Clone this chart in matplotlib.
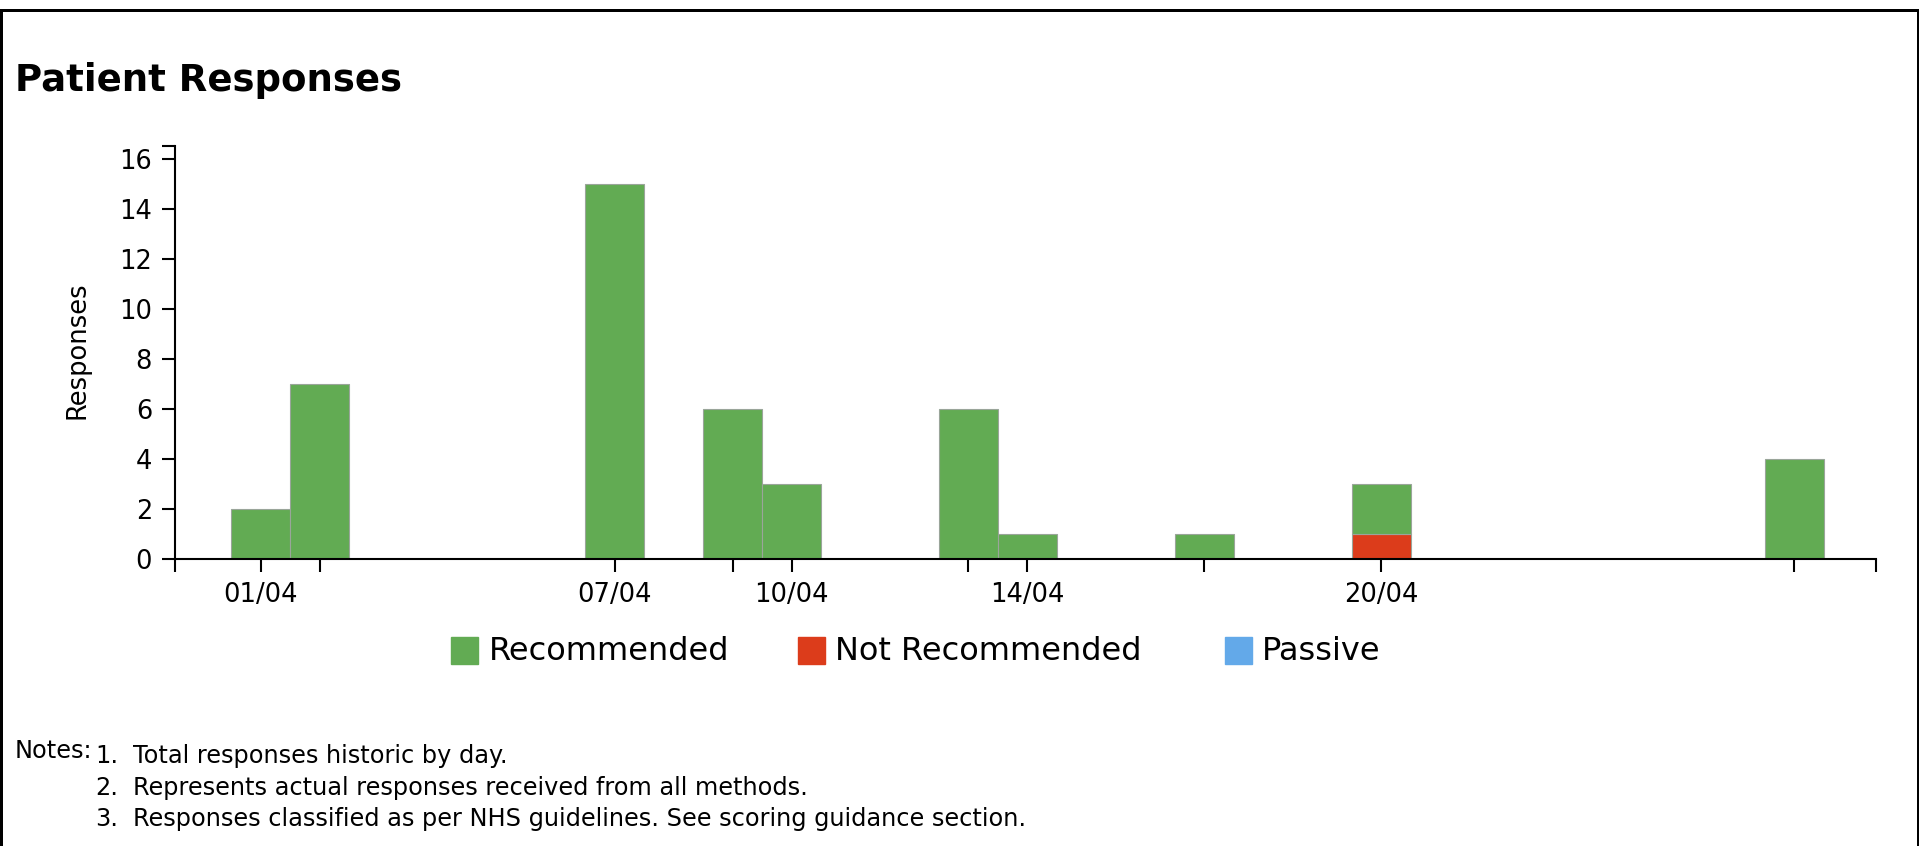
import matplotlib
matplotlib.use("Agg")
import matplotlib.pyplot as plt
from matplotlib.patches import Rectangle
from matplotlib.lines import Line2D
import numpy as np

# ---- data ----
dates = ["01/04", "02/04", "07/04", "09/04", "10/04", "13/04", "14/04", "17/04", "20/04", "27/04"]
recommended = [2, 7, 15, 6, 3, 6, 1, 1, 2, 4]
not_recommended = [0, 0, 0, 0, 0, 0, 0, 0, 1, 0]
passive = [0, 0, 0, 0, 0, 0, 0, 0, 0, 0]
labelled_dates = ["01/04", "07/04", "10/04", "14/04", "20/04"]
series_names = ["Recommended", "Not Recommended", "Passive"]
series_colors = ["#62AB53", "#DC3C1B", "#63A9E9"]
y_ticks = [0, 2, 4, 6, 8, 10, 12, 14, 16]
title = "Patient Responses"
y_label = "Responses"
notes = ["Total responses historic by day.",
         "Represents actual responses received from all methods.",
         "Responses classified as per NHS guidelines. See scoring guidance section."]

W, H = 1919, 846
fig = plt.figure(figsize=(W / 100, H / 100), dpi=100)
fig.patch.set_facecolor("white")

def fx(px):
    return px / W

def fy(py):
    return 1 - py / H

AX_L, AX_R, AX_T, AX_B = 175, 1876, 146, 559
ax = fig.add_axes([fx(AX_L), fy(AX_B), fx(AX_R) - fx(AX_L), fy(AX_T) - fy(AX_B)])

x = np.array([int(d[:2]) - 1 for d in dates], dtype=float)
rec = np.array(recommended)
nrec = np.array(not_recommended)
pas = np.array(passive)

edge = "#9aa59a"
ax.bar(x, nrec, width=1.0, color=series_colors[1], edgecolor=edge, linewidth=0.8, zorder=2)
ax.bar(x, rec, bottom=nrec, width=1.0, color=series_colors[0], edgecolor=edge, linewidth=0.8, zorder=2)
ax.bar(x, pas, bottom=nrec + rec, width=1.0, color=series_colors[2], edgecolor=edge, linewidth=0.0, zorder=2)

xmin, xmax = -1.453, 27.387
ymax = 16.5
ax.set_xlim(xmin, xmax)
ax.set_ylim(0, ymax)

xt = [xmin] + list(x) + [xmax]
xl = [""] + [d if d in labelled_dates else "" for d in dates] + [""]
ax.set_xticks(xt)
ax.set_xticklabels(xl)
ax.set_yticks(y_ticks + [ymax])
ax.set_yticklabels([str(v) for v in y_ticks] + [""])

for s in ["top", "right"]:
    ax.spines[s].set_visible(False)
for s in ["left", "bottom"]:
    ax.spines[s].set_linewidth(1.5)
    ax.spines[s].set_color("black")
    ax.spines[s].set_zorder(3)

ax.tick_params(axis="both", direction="out", length=9.5, width=1.5, colors="black",
               labelsize=18.5, pad=7)
ax.set_ylabel(y_label, fontsize=18.5)
ax.yaxis.set_label_coords((fx(90) - fx(AX_L)) / (fx(AX_R) - fx(AX_L)),
                          (fy(350) - fy(AX_B)) / (fy(AX_T) - fy(AX_B)))

# title
fig.text(fx(15), fy(80.5), title, fontsize=26.75, fontweight="bold", ha="left", va="center")

# legend (manual)
sq_x = [451, 798, 1225]
tx_x = [489, 835, 1262]
for name, col, sx, tx in zip(series_names, series_colors, sq_x, tx_x):
    fig.patches.append(Rectangle((fx(sx), fy(664)), fx(27), fy(637) - fy(664),
                                 transform=fig.transFigure, color=col, figure=fig))
    fig.text(fx(tx), fy(651), name, fontsize=23, ha="left", va="center")

# notes
fig.text(fx(15), fy(751), "Notes:", fontsize=17.25, ha="left", va="center")
for i, n in enumerate(notes):
    yy = fy(756 + i * 31.5)
    fig.text(fx(118), yy, f"{i + 1}.", fontsize=17.25, ha="right", va="center")
    fig.text(fx(133), yy, n, fontsize=17.25, ha="left", va="center")

# border
lw = 3 * 0.72
fig.add_artist(Line2D([fx(1), fx(1), fx(1917.5), fx(1917.5)],
                      [0, fy(10), fy(10), 0], transform=fig.transFigure,
                      color="black", linewidth=lw, solid_joinstyle="miter"))

fig.savefig("out.png", dpi=100, facecolor="white")
